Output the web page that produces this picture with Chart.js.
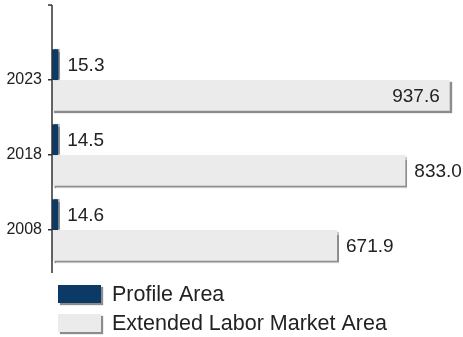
<!DOCTYPE html>
<html>
<head>
<meta charset="utf-8">
<script src="https://cdn.jsdelivr.net/npm/chart.js@4/dist/chart.umd.min.js"></script>
<style>
html,body{margin:0;padding:0;background:#fff;}
#wrap{width:463px;height:337px;position:relative;}
</style>
</head>
<body>
<div id="wrap"><canvas id="c" width="463" height="337"></canvas></div>
<script>
const categories = ['2023', '2018', '2008'];
const profileArea = [15.3, 14.5, 14.6];
const extendedArea = [937.6, 833.0, 671.9];
const seriesNames = ['Profile Area', 'Extended Labor Market Area'];

const NAVY = '#0b3a67';
const LIGHT = '#ebebeb';
const TEXT = '#222222';
const FONT = '"Liberation Sans", Arial, sans-serif';

const shadowPlugin = {
  id: 'shadow',
  beforeDatasetDraw(chart, args) {
    const ctx = chart.ctx;
    ctx.save();
    ctx.shadowColor = 'rgba(0,0,0,0.45)';
    ctx.shadowBlur = 1;
    ctx.shadowOffsetX = 2;
    ctx.shadowOffsetY = args.index === 0 ? 0 : 2;
  },
  afterDatasetDraw(chart) {
    chart.ctx.restore();
  }
};

const axisPlugin = {
  id: 'axisLine',
  afterDatasetsDraw(chart) {
    const ctx = chart.ctx;
    const x = chart.chartArea.left;
    ctx.save();
    ctx.strokeStyle = '#333';
    ctx.lineWidth = 1.5;
    ctx.beginPath();
    ctx.moveTo(x, 5);
    ctx.lineTo(x, 273);
    ctx.moveTo(x - 4, 5);
    ctx.lineTo(x, 5);
    ctx.stroke();
    ctx.restore();
  }
};

const labelPlugin = {
  id: 'valueLabels',
  afterDatasetsDraw(chart) {
    const ctx = chart.ctx;
    ctx.save();
    ctx.font = '19px ' + FONT;
    ctx.fillStyle = TEXT;
    ctx.textBaseline = 'middle';
    chart.data.datasets.forEach((ds, di) => {
      const meta = chart.getDatasetMeta(di);
      meta.data.forEach((bar, i) => {
        const txt = ds.data[i].toFixed(1);
        const w = ctx.measureText(txt).width;
        let x = bar.x + 9;
        ctx.textAlign = 'left';
        if (x + w > chart.width) {
          x = bar.x - 10;
          ctx.textAlign = 'right';
        }
        ctx.fillText(txt, x, bar.y + 1);
      });
    });
    ctx.restore();
  }
};

const legendPlugin = {
  id: 'customLegend',
  afterDraw(chart) {
    const ctx = chart.ctx;
    const items = [
      {label: seriesNames[0], color: NAVY, y: 285},
      {label: seriesNames[1], color: LIGHT, y: 314}
    ];
    items.forEach(it => {
      ctx.save();
      ctx.shadowColor = 'rgba(0,0,0,0.45)';
      ctx.shadowBlur = 1;
      ctx.shadowOffsetX = 2;
      ctx.shadowOffsetY = 2;
      ctx.fillStyle = it.color;
      ctx.fillRect(58, it.y, 43, 18);
      ctx.restore();
      ctx.save();
      ctx.font = '21.5px ' + FONT;
      ctx.fillStyle = TEXT;
      ctx.textBaseline = 'middle';
      ctx.textAlign = 'left';
      ctx.fillText(it.label, 112, it.y + 10);
      ctx.restore();
    });
  }
};

new Chart(document.getElementById('c'), {
  type: 'bar',
  data: {
    labels: categories,
    datasets: [
      {label: seriesNames[0], data: profileArea, backgroundColor: NAVY, borderWidth: 0, clip: false},
      {label: seriesNames[1], data: extendedArea, backgroundColor: LIGHT, borderWidth: 0, clip: false}
    ]
  },
  options: {
    indexAxis: 'y',
    responsive: false,
    animation: false,
    devicePixelRatio: 1,
    layout: {padding: {top: 42.5, bottom: 69.5, left: 0, right: 8}},
    datasets: {bar: {categoryPercentage: 0.82, barPercentage: 1.0}},
    plugins: {legend: {display: false}, tooltip: {enabled: false}},
    scales: {
      x: {display: false, min: 0, max: 950},
      y: {
        afterFit(scale) { scale.width = 52; },
        border: {display: false},
        grid: {display: true, drawOnChartArea: false, drawTicks: true, tickLength: 4, offset: false, color: '#333', lineWidth: 1.5},
        ticks: {color: TEXT, padding: 6, font: {family: FONT, size: 16}}
      }
    }
  },
  plugins: [shadowPlugin, axisPlugin, labelPlugin, legendPlugin]
});
</script>
</body>
</html>
